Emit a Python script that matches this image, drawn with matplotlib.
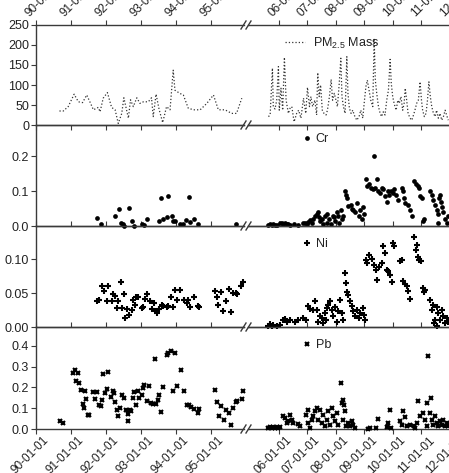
import matplotlib
matplotlib.use("Agg")
import matplotlib.pyplot as plt
from matplotlib.lines import Line2D
from matplotlib.ticker import FixedLocator, FormatStrFormatter
import matplotlib.transforms as mtransforms

plt.rcParams['font.family'] = ['Liberation Sans', 'DejaVu Sans']
plt.rcParams['font.size'] = 9

# ---------------- data (decimal years) ----------------
left_ticks = [1990, 1991, 1992, 1993, 1994, 1995]
left_labels = ['90-01-01', '91-01-01', '92-01-01', '93-01-01', '94-01-01', '95-01-01']
right_ticks = [2006, 2007, 2008, 2009, 2010, 2011, 2012]
right_labels = ['06-01-01', '07-01-01', '08-01-01', '09-01-01', '10-01-01', '11-01-01', '12-01-01']

pm_left_x = [1990.67, 1990.78, 1990.92, 1991.09, 1991.21, 1991.33, 1991.45, 1991.56, 1991.64, 1991.78,
             1991.83, 1991.92, 1992.04, 1992.16, 1992.26, 1992.35, 1992.45, 1992.51, 1992.64, 1992.70,
             1992.78, 1992.88, 1992.97, 1993.07, 1993.21, 1993.30, 1993.35, 1993.43, 1993.52, 1993.62,
             1993.73, 1993.83, 1993.92, 1993.97, 1994.11, 1994.21, 1994.35, 1994.50, 1994.69, 1994.88,
             1995.07, 1995.21, 1995.40, 1995.59, 1995.73, 1995.88]
pm_left_y = [35, 35, 46, 77, 58, 56, 75, 54, 38, 44,
             33, 67, 81, 44, 38, 4, 29, 68, 17, 63,
             46, 68, 54, 58, 58, 68, 21, 77, 38, 6,
             46, 38, 137, 87, 79, 75, 42, 38, 38, 54,
             75, 38, 38, 29, 29, 67]

pm_right_x = [2005.64, 2005.70, 2005.78, 2005.81, 2005.87, 2005.93, 2005.99, 2006.02, 2006.08, 2006.14,
              2006.20, 2006.26, 2006.34, 2006.40, 2006.46, 2006.54, 2006.63, 2006.70, 2006.78, 2006.87,
              2006.95, 2007.01, 2007.08, 2007.13, 2007.19, 2007.27, 2007.33, 2007.37, 2007.42, 2007.47,
              2007.53, 2007.59, 2007.66, 2007.71, 2007.78, 2007.84, 2007.89, 2007.95, 2008.01, 2008.06,
              2008.12, 2008.18, 2008.22, 2008.27, 2008.33, 2008.39, 2008.43, 2008.48, 2008.54, 2008.60,
              2008.65, 2008.74, 2008.82, 2008.88, 2008.95, 2009.01, 2009.06, 2009.11, 2009.17, 2009.23,
              2009.30, 2009.35, 2009.39, 2009.44, 2009.50, 2009.56, 2009.61, 2009.67, 2009.73, 2009.79,
              2009.85, 2009.91, 2009.95, 2010.00, 2010.05, 2010.12, 2010.18, 2010.23, 2010.29, 2010.35,
              2010.40, 2010.44, 2010.49, 2010.54, 2010.61, 2010.67, 2010.73, 2010.78, 2010.84, 2010.90,
              2010.96, 2011.01, 2011.05, 2011.11, 2011.17, 2011.22, 2011.27, 2011.32, 2011.37, 2011.43,
              2011.49, 2011.54, 2011.60, 2011.66, 2011.72, 2011.78, 2011.84, 2011.89, 2011.95]
pm_right_y = [21, 25, 142, 46, 40, 62, 146, 37, 92, 37,
              169, 62, 29, 42, 46, 8, 29, 37, 17, 67,
              29, 94, 46, 71, 46, 62, 25, 131, 71, 100,
              37, 29, 25, 37, 71, 114, 62, 79, 62, 46,
              100, 167, 71, 46, 29, 171, 79, 42, 29, 37,
              25, 12, 21, 37, 17, 62, 96, 112, 87, 62,
              46, 217, 112, 79, 46, 29, 21, 33, 25, 62,
              87, 164, 104, 71, 54, 37, 62, 54, 71, 37,
              54, 92, 62, 29, 17, 12, 25, 37, 54, 62,
              108, 62, 37, 21, 29, 62, 108, 71, 46, 29,
              21, 37, 17, 29, 12, 21, 37, 25, 12]

cr_left_x = [1991.73, 1991.85, 1992.26, 1992.36, 1992.43, 1992.48, 1992.52, 1992.65, 1992.73, 1992.81,
             1993.02, 1993.09, 1993.18, 1993.52, 1993.58, 1993.64, 1993.73, 1993.78, 1993.89, 1993.92,
             1993.97, 1994.11, 1994.21, 1994.28, 1994.36, 1994.40, 1994.51, 1994.62, 1995.70]
cr_left_y = [0.022, 0.005, 0.028, 0.050, 0.008, 0.005, 0.001, 0.053, 0.015, 0.001,
             0.005, 0.003, 0.019, 0.014, 0.079, 0.020, 0.027, 0.085, 0.029, 0.014,
             0.014, 0.005, 0.005, 0.017, 0.082, 0.012, 0.019, 0.007, 0.007]

cr_right_x = [2005.64, 2005.70, 2005.75, 2005.81, 2005.87, 2005.93, 2006.05, 2006.11, 2006.16, 2006.22,
              2006.28, 2006.34, 2006.40, 2006.54, 2006.69, 2006.84, 2006.92, 2006.98, 2007.04, 2007.10,
              2007.16, 2007.22, 2007.27, 2007.33, 2007.39, 2007.43, 2007.45, 2007.51, 2007.57, 2007.63,
              2007.68, 2007.71, 2007.78, 2007.84, 2007.89, 2007.94, 2007.98, 2008.04, 2008.09, 2008.13,
              2008.18, 2008.21, 2008.27, 2008.33, 2008.36, 2008.40, 2008.44, 2008.53, 2008.57, 2008.62,
              2008.68, 2008.74, 2008.80, 2008.85, 2008.91, 2008.95, 2008.99, 2009.06, 2009.11, 2009.17,
              2009.23, 2009.30, 2009.36, 2009.39, 2009.44, 2009.50, 2009.56, 2009.61, 2009.67, 2009.73,
              2009.79, 2009.82, 2009.88, 2009.93, 2010.00, 2010.05, 2010.11, 2010.20, 2010.32, 2010.35,
              2010.40, 2010.44, 2010.55, 2010.61, 2010.67, 2010.76, 2010.82, 2010.88, 2010.92, 2010.96,
              2011.02, 2011.05, 2011.10, 2011.31, 2011.37, 2011.43, 2011.49, 2011.54, 2011.58, 2011.60,
              2011.64, 2011.66, 2011.70, 2011.73, 2011.78, 2011.84, 2011.89, 2011.95]
cr_right_y = [0.003, 0.005, 0.002, 0.006, 0.004, 0.003, 0.008, 0.010, 0.006, 0.009,
              0.005, 0.007, 0.004, 0.006, 0.004, 0.008, 0.010, 0.006, 0.012, 0.018,
              0.008, 0.020, 0.030, 0.035, 0.040, 0.025, 0.015, 0.020, 0.005, 0.030,
              0.010, 0.035, 0.020, 0.005, 0.030, 0.025, 0.015, 0.040, 0.030, 0.010,
              0.045, 0.020, 0.030, 0.100, 0.090, 0.080, 0.056, 0.060, 0.050, 0.045,
              0.040, 0.065, 0.030, 0.045, 0.020, 0.055, 0.035, 0.135, 0.115, 0.120,
              0.110, 0.105, 0.200, 0.110, 0.135, 0.100, 0.095, 0.110, 0.105, 0.085,
              0.070, 0.100, 0.090, 0.100, 0.095, 0.105, 0.090, 0.075, 0.110, 0.100,
              0.080, 0.065, 0.060, 0.045, 0.030, 0.130, 0.120, 0.115, 0.110, 0.085,
              0.080, 0.015, 0.020, 0.100, 0.090, 0.075, 0.060, 0.045, 0.035, 0.008,
              0.080, 0.090, 0.070, 0.055, 0.040, 0.020, 0.010, 0.030]

ni_left_x = [1991.75, 1991.80, 1991.88, 1991.94, 1992.05, 1992.04, 1992.16, 1992.21, 1992.26, 1992.30,
             1992.35, 1992.42, 1992.47, 1992.51, 1992.55, 1992.61, 1992.67, 1992.73, 1992.78, 1992.83,
             1992.86, 1992.92, 1993.02, 1993.07, 1993.10, 1993.18, 1993.26, 1993.30, 1993.37, 1993.43,
             1993.47, 1993.52, 1993.59, 1993.64, 1993.73, 1993.78, 1993.85, 1993.92, 1993.97, 1994.02,
             1994.11, 1994.23, 1994.30, 1994.35, 1994.40, 1994.51, 1994.64, 1994.67,
             1995.10, 1995.16, 1995.21, 1995.28, 1995.35, 1995.43, 1995.50, 1995.56, 1995.64, 1995.70,
             1995.75, 1995.85, 1995.92]
ni_left_y = [0.038, 0.040, 0.060, 0.053, 0.061, 0.038, 0.038, 0.048, 0.045, 0.028,
             0.039, 0.067, 0.028, 0.049, 0.014, 0.026, 0.017, 0.025, 0.040, 0.033,
             0.044, 0.044, 0.028, 0.029, 0.042, 0.048, 0.039, 0.026, 0.035, 0.024,
             0.021, 0.026, 0.033, 0.031, 0.029, 0.031, 0.044, 0.029, 0.054, 0.040,
             0.054, 0.040, 0.035, 0.040, 0.029, 0.044, 0.031, 0.030,
             0.053, 0.044, 0.033, 0.052, 0.023, 0.039, 0.056, 0.022, 0.050, 0.050,
             0.048, 0.060, 0.067]

ni_right_x = [2005.64, 2005.70, 2005.75, 2005.81, 2005.93, 2006.05, 2006.16, 2006.22, 2006.28, 2006.40,
              2006.57, 2006.69, 2006.87, 2006.96, 2007.04, 2007.10, 2007.19, 2007.27, 2007.33, 2007.39,
              2007.45, 2007.51, 2007.57, 2007.63, 2007.66, 2007.68, 2007.74, 2007.80, 2007.86, 2007.92,
              2007.98, 2008.04, 2008.09, 2008.15, 2008.21, 2008.25, 2008.33, 2008.36, 2008.39, 2008.42,
              2008.50, 2008.56, 2008.62, 2008.68, 2008.74, 2008.80, 2008.85, 2008.95, 2008.99, 2009.03,
              2009.06, 2009.11, 2009.18, 2009.26, 2009.35, 2009.42, 2009.46, 2009.53, 2009.61, 2009.67,
              2009.73, 2009.79, 2009.85, 2009.91, 2009.96, 2010.02, 2010.06, 2010.26, 2010.32, 2010.35,
              2010.43, 2010.49, 2010.55, 2010.61, 2010.76, 2010.82, 2010.87, 2010.90, 2010.94, 2010.99,
              2011.05, 2011.10, 2011.13, 2011.31, 2011.37, 2011.43, 2011.46, 2011.49, 2011.54, 2011.57,
              2011.60, 2011.66, 2011.72, 2011.78, 2011.84, 2011.89, 2011.95]
ni_right_y = [0.002, 0.004, 0.001, 0.003, 0.002, 0.003, 0.011, 0.012, 0.008, 0.011,
              0.008, 0.011, 0.013, 0.011, 0.031, 0.026, 0.025, 0.038, 0.025, 0.008,
              0.016, 0.013, 0.006, 0.021, 0.011, 0.028, 0.033, 0.038, 0.025, 0.016,
              0.030, 0.008, 0.023, 0.040, 0.021, 0.011, 0.079, 0.065, 0.052, 0.047,
              0.038, 0.031, 0.023, 0.016, 0.025, 0.013, 0.021, 0.028, 0.018, 0.011,
              0.099, 0.094, 0.106, 0.101, 0.092, 0.084, 0.070, 0.089, 0.094, 0.119,
              0.109, 0.084, 0.082, 0.077, 0.067, 0.124, 0.119, 0.097, 0.099, 0.068,
              0.064, 0.060, 0.053, 0.042, 0.133, 0.114, 0.121, 0.104, 0.099, 0.097,
              0.057, 0.052, 0.055, 0.040, 0.025, 0.033, 0.006, 0.011, 0.030, 0.002,
              0.021, 0.011, 0.025, 0.016, 0.006, 0.013, 0.008]

pb_left_x = [1990.69, 1990.78, 1991.05, 1991.11, 1991.19, 1991.14, 1991.24, 1991.29, 1991.33, 1991.37,
             1991.40, 1991.43, 1991.48, 1991.52, 1991.64, 1991.69, 1991.73, 1991.80, 1991.85, 1991.88,
             1991.92, 1991.97, 1992.02, 1992.07, 1992.13, 1992.19, 1992.23, 1992.27, 1992.30, 1992.35,
             1992.40, 1992.47, 1992.51, 1992.57, 1992.62, 1992.64, 1992.69, 1992.71, 1992.76, 1992.80,
             1992.86, 1992.90, 1992.95, 1993.02, 1993.07, 1993.09, 1993.16, 1993.24, 1993.28, 1993.35,
             1993.40, 1993.43, 1993.48, 1993.52, 1993.58, 1993.64, 1993.73, 1993.78, 1993.85, 1993.92,
             1993.97, 1994.02, 1994.13, 1994.23, 1994.30, 1994.37, 1994.42, 1994.51, 1994.64, 1994.67,
             1995.11, 1995.17, 1995.23, 1995.29, 1995.36, 1995.42, 1995.50, 1995.56, 1995.64, 1995.70,
             1995.75, 1995.88, 1995.92]
pb_left_y = [0.038, 0.029, 0.270, 0.285, 0.269, 0.229, 0.220, 0.189, 0.122, 0.100,
             0.181, 0.146, 0.066, 0.066, 0.176, 0.144, 0.179, 0.117, 0.109, 0.141,
             0.266, 0.173, 0.194, 0.274, 0.154, 0.181, 0.173, 0.131, 0.090, 0.064,
             0.100, 0.165, 0.149, 0.093, 0.074, 0.040, 0.093, 0.085, 0.149, 0.178,
             0.117, 0.184, 0.149, 0.165, 0.197, 0.213, 0.133, 0.205, 0.125, 0.122,
             0.338, 0.122, 0.141, 0.165, 0.080, 0.202, 0.355, 0.365, 0.376, 0.181,
             0.365, 0.205, 0.285, 0.181, 0.117, 0.117, 0.106, 0.096, 0.077, 0.098,
             0.186, 0.130, 0.064, 0.112, 0.042, 0.090, 0.077, 0.021, 0.100, 0.128,
             0.133, 0.146, 0.181]

pb_right_x = [2005.64, 2005.70, 2005.75, 2005.81, 2005.87, 2005.93, 2005.99, 2006.05, 2006.16, 2006.22,
              2006.28, 2006.34, 2006.40, 2006.46, 2006.49, 2006.69, 2006.75, 2006.96, 2007.02, 2007.04,
              2007.10, 2007.16, 2007.22, 2007.27, 2007.33, 2007.39, 2007.45, 2007.51, 2007.57, 2007.63,
              2007.68, 2007.74, 2007.80, 2007.86, 2007.92, 2007.98, 2008.04, 2008.09, 2008.18, 2008.21,
              2008.25, 2008.27, 2008.29, 2008.33, 2008.36, 2008.44, 2008.50, 2008.56, 2008.62, 2008.68,
              2009.15, 2009.20, 2009.42, 2009.47, 2009.79, 2009.85, 2009.91, 2009.93, 2010.26, 2010.32,
              2010.37, 2010.43, 2010.49, 2010.61, 2010.73, 2010.78, 2010.84, 2010.90, 2010.96, 2011.08,
              2011.13, 2011.19, 2011.22, 2011.25, 2011.31, 2011.33, 2011.37, 2011.43, 2011.49, 2011.54,
              2011.60, 2011.66, 2011.72, 2011.78, 2011.84, 2011.89, 2011.95]
pb_right_y = [0.005, 0.008, 0.003, 0.010, 0.006, 0.012, 0.004, 0.008, 0.061, 0.053,
              0.029, 0.037, 0.069, 0.045, 0.029, 0.024, 0.013, 0.069, 0.093, 0.029,
              0.005, 0.045, 0.061, 0.085, 0.101, 0.045, 0.093, 0.029, 0.069, 0.013,
              0.045, 0.085, 0.021, 0.101, 0.061, 0.037, 0.077, 0.021, 0.221, 0.125,
              0.141, 0.045, 0.117, 0.085, 0.013, 0.029, 0.013, 0.037, 0.021, 0.005,
              0.002, 0.003, 0.005, 0.048, 0.008, 0.029, 0.090, 0.005, 0.037, 0.021,
              0.085, 0.058, 0.013, 0.021, 0.013, 0.005, 0.029, 0.133, 0.061, 0.077,
              0.045, 0.013, 0.125, 0.352, 0.077, 0.149, 0.045, 0.021, 0.061, 0.029,
              0.013, 0.037, 0.021, 0.045, 0.013, 0.029, 0.013]

# y-axis settings per panel
ylims = [(0, 250), (0, 0.29), (0, 0.149), (0, 0.49)]
yticks = [[0, 50, 100, 150, 200, 250], [0.0, 0.1, 0.2], [0.0, 0.05, 0.10], [0.0, 0.1, 0.2, 0.3, 0.4]]
yfmts = ['%d', '%.1f', '%.2f', '%.1f']
series_names = ['PM$_{\\mathregular{2.5}}$ Mass', 'Cr', 'Ni', 'Pb']

# ---------------- layout ----------------
W, H = 449, 473
fig = plt.figure(figsize=(W / 100, H / 100), dpi=100)
fig.patch.set_facecolor('white')

row_top = [25, 125, 226, 327]
row_bot = [125, 226, 327, 429]
L0, L1 = 36, 244          # left segment px
R0, R1 = 248, 461         # right segment px
left_xlim = (1990.0, 1990.0 + (L1 - L0) / 35.0)
right_xlim = (2006 - (278.7 - R0) / 28.5, 2006 + (R1 - 278.7) / 28.5)

spine_col = '#3a3a3a'
text_col = '#222222'
xlab_size = 8.5

def px_to_fig(x, y):
    return x / W, 1 - y / H

axes = []
for i in range(4):
    b = 1 - row_bot[i] / H
    h = (row_bot[i] - row_top[i]) / H
    axL = fig.add_axes([L0 / W, b, (L1 - L0) / W, h])
    axR = fig.add_axes([R0 / W, b, (R1 - R0) / W, h])
    axes.append((axL, axR))
    for ax, xl, tks, lbs in ((axL, left_xlim, left_ticks, left_labels),
                             (axR, right_xlim, right_ticks, right_labels)):
        ax.set_xlim(*xl)
        ax.set_ylim(*ylims[i])
        ax.patch.set_alpha(0)
        for s in ax.spines.values():
            s.set_color(spine_col)
            s.set_linewidth(1.0)
        ax.spines['right'].set_visible(False)
        ax.xaxis.set_major_locator(FixedLocator(tks))
        ax.set_xticklabels(lbs)
        if i == 0:
            ax.tick_params(axis='x', which='both', top=True, labeltop=True, bottom=True,
                           labelbottom=False, direction='out', length=3.5, width=0.8,
                           colors=spine_col, labelcolor=text_col, labelsize=xlab_size, pad=1)
            for t in ax.xaxis.get_major_ticks():
                t.tick1line.set_marker(3)  # bottom ticks point up (inward)
        elif i == 3:
            ax.tick_params(axis='x', top=False, labeltop=False, bottom=True, labelbottom=True,
                           direction='out', length=3.5, width=0.8, colors=spine_col,
                           labelcolor=text_col, labelsize=xlab_size, pad=1)
        else:
            ax.tick_params(axis='x', top=False, labeltop=False, bottom=True, labelbottom=False,
                           direction='in', length=3.5, width=0.8, colors=spine_col)
    axR.spines['left'].set_visible(False)
    axR.tick_params(axis='y', left=False, labelleft=False)
    axL.yaxis.set_major_locator(FixedLocator(yticks[i]))
    axL.yaxis.set_major_formatter(FormatStrFormatter(yfmts[i]))
    axL.tick_params(axis='y', direction='out', length=3.5, width=0.8, colors=spine_col,
                    labelcolor=text_col, labelsize=9, pad=1.5)

# rotate x tick labels
for ax in axes[0]:
    for lbl in ax.get_xticklabels():
        lbl.set_rotation(45)
        lbl.set_ha('left')
        lbl.set_va('bottom')
        lbl.set_rotation_mode('anchor')
        lbl.set_transform(lbl.get_transform() +
                          mtransforms.ScaledTranslation(-4 / 100, 0, fig.dpi_scale_trans))
for ax in axes[3]:
    for lbl in ax.get_xticklabels():
        lbl.set_rotation(45)
        lbl.set_ha('right')
        lbl.set_va('top')
        lbl.set_rotation_mode('anchor')
        lbl.set_transform(lbl.get_transform() +
                          mtransforms.ScaledTranslation(7 / 100, 1 / 100, fig.dpi_scale_trans))

# ---------------- data ----------------
axL, axR = axes[0]
for ax, xs, ys in ((axL, pm_left_x, pm_left_y), (axR, pm_right_x, pm_right_y)):
    ax.plot(xs, ys, linestyle=':', color='#333333', linewidth=0.9, label=series_names[0])

mk = [None, dict(marker='o', ms=3.4, mew=0),
      dict(marker='+', ms=4.0, mew=1.5),
      dict(marker='x', ms=3.2, mew=1.5)]
data_sets = [None,
             ((cr_left_x, cr_left_y), (cr_right_x, cr_right_y)),
             ((ni_left_x, ni_left_y), (ni_right_x, ni_right_y)),
             ((pb_left_x, pb_left_y), (pb_right_x, pb_right_y))]
for i in (1, 2, 3):
    axL, axR = axes[i]
    (lx, ly), (rx, ry) = data_sets[i]
    axL.plot(lx, ly, linestyle='none', color='black', clip_on=False, zorder=3, **mk[i])
    axR.plot(rx, ry, linestyle='none', color='black', clip_on=False, zorder=3,
             label=series_names[i], **mk[i])

# ---------------- legends ----------------
leg_pos = [(285, 43), (302, 139), (302, 244), (302, 345)]
for i in range(4):
    axR = axes[i][1]
    x, y = px_to_fig(*leg_pos[i])
    if i == 0:
        kw = dict(handlelength=1.6, handletextpad=0.65)
    else:
        kw = dict(handlelength=0.8, handletextpad=0.3)
    leg = axR.legend(loc='center left', bbox_to_anchor=(x, y), bbox_transform=fig.transFigure,
                     frameon=False, borderpad=0, borderaxespad=0, numpoints=1, fontsize=9, **kw)
    for t in leg.get_texts():
        t.set_color(text_col)

# ---------------- axis break marks ----------------
for yb in [25, 125, 226, 327, 429]:
    for cx in (243.5, 248.5):
        x0, y0 = px_to_fig(cx - 2.5, yb + 4)
        x1, y1 = px_to_fig(cx + 2.5, yb - 4)
        fig.add_artist(Line2D([x0, x1], [y0, y1], color=spine_col, linewidth=1.0,
                              transform=fig.transFigure))

fig.savefig('out.png', dpi=100)
